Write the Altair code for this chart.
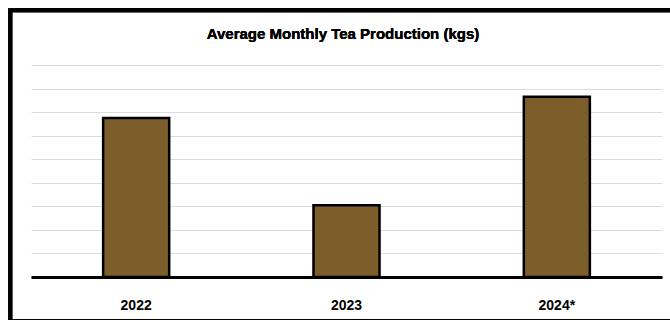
import altair as alt
import pandas as pd

# Average monthly tea production per year (gridline step = 1 unit)
years = ["2022", "2023", "2024*"]
production = [6.75, 3.05, 7.65]
grid_values = [0, 1, 2, 3, 4, 5, 6, 7, 8, 9]
title_text = "Average Monthly Tea Production (kgs)"

df = pd.DataFrame({"year": years, "production": production})

PLOT_W = 631
PLOT_H = 212

base = alt.Chart(df)

bars = base.mark_bar(
    color="#7B5E2A", stroke="black", strokeWidth=2.5
).encode(
    x=alt.X(
        "year:N",
        sort=None,
        title=None,
        scale=alt.Scale(paddingInner=0.686, paddingOuter=0.343),
        axis=alt.Axis(
            labelFont="Liberation Sans",
            labelFontWeight="bold",
            labelFontSize=14,
            labelColor="black",
            labelAngle=0,
            labelBaseline="alphabetic",
            labelPadding=32,
            ticks=False,
            tickSize=0,
            domain=True,
            domainColor="black",
            domainWidth=3,
            grid=False,
        ),
    ),
    y=alt.Y(
        "production:Q",
        title=None,
        scale=alt.Scale(domain=[0, 9], nice=False, zero=True),
        axis=alt.Axis(
            values=grid_values,
            labels=False,
            ticks=False,
            domain=False,
            grid=True,
            gridColor="#dcdcdc",
            gridWidth=1,
        ),
    ),
)

# Chart heading, centred on the outer frame
heading = alt.Chart(df).mark_text(
    font="Liberation Sans",
    fontSize=15,
    fontWeight="bold",
    color="black",
    align="center",
    baseline="alphabetic",
).encode(
    x=alt.value(312),
    y=alt.value(-26.5),
    text=alt.value(title_text),
)

# Outer frame around the whole figure
frame = alt.Chart(df).mark_rect(
    fill=None, stroke="black", strokeWidth=4
).encode(
    x=alt.value(-20.7),
    x2=alt.value(PLOT_W + 20),
    y=alt.value(-54.7),
    y2=alt.value(256.3),
)

chart = alt.layer(bars, heading, frame).properties(
    width=PLOT_W,
    height=PLOT_H,
    autosize=alt.AutoSizeParams(type="none"),
    padding={"left": 31, "top": 65, "right": 8, "bottom": 43},
    background="white",
).configure_view(stroke=None)

chart.save("out.html", embed_options={"renderer": "svg", "actions": False})
